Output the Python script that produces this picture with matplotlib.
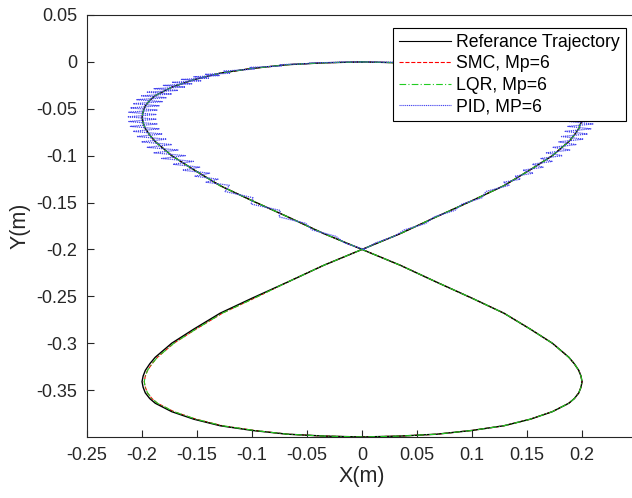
import matplotlib
matplotlib.use("Agg")
import matplotlib.pyplot as plt

# reference figure-eight (x, y in metres)
# one quarter per line pair, extra points near the turning tips
ref_x = [0.000, 0.035, 0.068, 0.100, 0.129, 0.153, 0.173, 0.188, 0.193, 0.197, 0.199,
         0.200, 0.199, 0.197, 0.193, 0.188, 0.173, 0.153, 0.129, 0.100, 0.068, 0.035,
         0.000, -0.035, -0.068, -0.100, -0.129, -0.153, -0.173, -0.188, -0.193, -0.197, -0.199,
         -0.200, -0.199, -0.197, -0.193, -0.188, -0.173, -0.153, -0.129, -0.100, -0.068, -0.035,
         0.000, 0.035, 0.068, 0.100, 0.129, 0.153, 0.173, 0.188, 0.193, 0.197, 0.199,
         0.200, 0.199, 0.197, 0.193, 0.188, 0.173, 0.153, 0.129, 0.100, 0.068, 0.035,
         0.000, -0.035, -0.068, -0.100, -0.129, -0.153, -0.173, -0.188, -0.193, -0.197, -0.199,
         -0.200, -0.199, -0.197, -0.193, -0.188, -0.173, -0.153, -0.129, -0.100, -0.068, -0.035, 0.000]
ref_y = [0.000, -0.001, -0.003, -0.007, -0.012, -0.019, -0.027, -0.036, -0.041, -0.047, -0.053,
         -0.059, -0.065, -0.071, -0.078, -0.085, -0.100, -0.115, -0.132, -0.148, -0.165, -0.183,
         -0.200, -0.217, -0.235, -0.252, -0.268, -0.285, -0.300, -0.315, -0.322, -0.329, -0.335,
         -0.341, -0.347, -0.353, -0.359, -0.364, -0.373, -0.381, -0.388, -0.393, -0.397, -0.399,
         -0.400, -0.399, -0.397, -0.393, -0.388, -0.381, -0.373, -0.364, -0.359, -0.353, -0.347,
         -0.341, -0.335, -0.329, -0.322, -0.315, -0.300, -0.285, -0.268, -0.252, -0.235, -0.217,
         -0.200, -0.183, -0.165, -0.148, -0.132, -0.115, -0.100, -0.085, -0.078, -0.071, -0.065,
         -0.059, -0.053, -0.047, -0.041, -0.036, -0.027, -0.019, -0.012, -0.007, -0.003, -0.001, 0.000]

# LQR / SMC sit on the reference, a touch inside on the lower-left lobe
lqr_x = [0.000, 0.035, 0.068, 0.100, 0.129, 0.153, 0.173, 0.188, 0.193, 0.197, 0.199,
         0.200, 0.199, 0.197, 0.193, 0.188, 0.173, 0.153, 0.129, 0.100, 0.068, 0.035,
         0.000, -0.035, -0.068, -0.098, -0.127, -0.151, -0.171, -0.186, -0.191, -0.195, -0.197,
         -0.198, -0.197, -0.195, -0.191, -0.186, -0.171, -0.151, -0.127, -0.098, -0.068, -0.035,
         0.000, 0.035, 0.068, 0.100, 0.129, 0.153, 0.173, 0.188, 0.193, 0.197, 0.199,
         0.200, 0.199, 0.197, 0.193, 0.188, 0.173, 0.153, 0.129, 0.100, 0.068, 0.035,
         0.000, -0.035, -0.068, -0.100, -0.129, -0.153, -0.173, -0.188, -0.193, -0.197, -0.199,
         -0.200, -0.199, -0.197, -0.193, -0.188, -0.173, -0.153, -0.129, -0.100, -0.068, -0.035, 0.000]
lqr_y = ref_y
smc_x = lqr_x
smc_y = ref_y

# PID only covers the upper lobe and swings sideways around it
pid_x = [
    # crossing -> lower part of left branch
    0.0020, -0.0160, -0.0238, -0.0456, -0.0511, -0.0754, -0.0743, -0.1009, -0.0990, -0.1246,
    # left tip, dense swings
    -0.1206, -0.1418, -0.1309, -0.1519, -0.1386, -0.1632, -0.1476, -0.1718, -0.1533, -0.1821,
    -0.1607, -0.1891, -0.1673, -0.1952, -0.1729, -0.2004, -0.1777, -0.2048, -0.1816, -0.2081,
    -0.1845, -0.2106, -0.1864, -0.2120, -0.1874, -0.2125, -0.1874, -0.2120, -0.1864, -0.2106,
    -0.1845, -0.2081, -0.1816, -0.2048, -0.1777, -0.2004, -0.1729, -0.1952, -0.1673, -0.1891,
    -0.1607, -0.1806, -0.1548, -0.1728, -0.1466, -0.1642, -0.1396, -0.1529, -0.1299, -0.1428,
    -0.1196,
    # across the top
    -0.1256, -0.0980, -0.1019, -0.0733, -0.0744, -0.0491, -0.0476, -0.0218, -0.0200, 0.0060,
    0.0080, 0.0338, 0.0356, 0.0611, 0.0624, 0.0873, 0.0879, 0.1120, 0.1116,
    # right tip
    0.1376, 0.1248, 0.1479, 0.1349, 0.1576, 0.1442, 0.1666, 0.1528, 0.1748, 0.1606,
    0.1832, 0.1666, 0.1898, 0.1727, 0.1954, 0.1779, 0.2002, 0.1823, 0.2041, 0.1856,
    0.2080, 0.1871, 0.2099, 0.1885, 0.2109, 0.1890, 0.2109, 0.1885, 0.2099, 0.1871,
    0.2080, 0.1846, 0.2051, 0.1813, 0.2012, 0.1789, 0.1944, 0.1737, 0.1888, 0.1676,
    0.1822, 0.1626, 0.1728, 0.1548, 0.1646, 0.1462, 0.1556, 0.1389, 0.1439, 0.1288,
    0.1336,
    # back down to the crossing
    0.1126, 0.1090, 0.0909, 0.0843, 0.0654, 0.0581, 0.0386, 0.0293, 0.0125, 0.0015]
pid_y = [
    -0.2000, -0.1930, -0.1860, -0.1791, -0.1722, -0.1653, -0.1584, -0.1516, -0.1449, -0.1382,
    -0.1316, -0.1283, -0.1251, -0.1219, -0.1187, -0.1155, -0.1123, -0.1092, -0.1061, -0.1030,
    -0.1000, -0.0970, -0.0940, -0.0911, -0.0882, -0.0853, -0.0824, -0.0796, -0.0769, -0.0741,
    -0.0714, -0.0688, -0.0662, -0.0636, -0.0611, -0.0586, -0.0561, -0.0537, -0.0514, -0.0491,
    -0.0468, -0.0446, -0.0424, -0.0403, -0.0382, -0.0362, -0.0342, -0.0323, -0.0304, -0.0286,
    -0.0268, -0.0251, -0.0234, -0.0218, -0.0202, -0.0187, -0.0173, -0.0159, -0.0146, -0.0133,
    -0.0121,
    -0.0098, -0.0077, -0.0059, -0.0044, -0.0030, -0.0019, -0.0011, -0.0005, -0.0001, 0.0000,
    -0.0001, -0.0005, -0.0011, -0.0019, -0.0030, -0.0044, -0.0059, -0.0077, -0.0098,
    -0.0121, -0.0133, -0.0146, -0.0159, -0.0173, -0.0187, -0.0202, -0.0218, -0.0234, -0.0251,
    -0.0268, -0.0286, -0.0304, -0.0323, -0.0342, -0.0362, -0.0382, -0.0403, -0.0424, -0.0446,
    -0.0468, -0.0491, -0.0514, -0.0537, -0.0561, -0.0586, -0.0611, -0.0636, -0.0662, -0.0688,
    -0.0714, -0.0741, -0.0769, -0.0796, -0.0824, -0.0853, -0.0882, -0.0911, -0.0940, -0.0970,
    -0.1000, -0.1030, -0.1061, -0.1092, -0.1123, -0.1155, -0.1187, -0.1219, -0.1251, -0.1283,
    -0.1316,
    -0.1382, -0.1449, -0.1516, -0.1584, -0.1653, -0.1722, -0.1791, -0.1860, -0.1930, -0.2000]

labels = ["Referance Trajectory", "SMC, Mp=6", "LQR, Mp=6", "PID, MP=6"]
x_ticks = [-0.25, -0.2, -0.15, -0.1, -0.05, 0, 0.05, 0.1, 0.15, 0.2]
x_tick_labels = ["-0.25", "-0.2", "-0.15", "-0.1", "-0.05", "0", "0.05", "0.1", "0.15", "0.2"]
y_ticks = [0.05, 0, -0.05, -0.1, -0.15, -0.2, -0.25, -0.3, -0.35]
y_tick_labels = ["0.05", "0", "-0.05", "-0.1", "-0.15", "-0.2", "-0.25", "-0.3", "-0.35"]


def plot_paths(filename="out.png"):
    plt.rcParams["font.family"] = ["Liberation Sans", "DejaVu Sans"]
    plt.rcParams["axes.unicode_minus"] = False

    fig = plt.figure(figsize=(6.32, 4.98), dpi=100)
    ax = fig.add_axes([0.1377, 0.1225, 0.8703, 0.8474])

    ax.plot(ref_x, ref_y, color="black", lw=1.0, label=labels[0], zorder=2)
    # SMC hides under the black line in the original
    ax.plot(smc_x, smc_y, color="red", ls="--", lw=0.8, label=labels[1], zorder=1)
    ax.plot(lqr_x, lqr_y, color="#22cc22", ls=(0, (6, 2, 1, 2)), lw=0.8,
            label=labels[2], zorder=3)
    ax.plot(pid_x, pid_y, color="#4646ee", ls=(0, (1, 0.7)), lw=0.9,
            label=labels[3], zorder=4)

    ax.set_xlim(-0.25, 0.25)
    ax.set_ylim(-0.4, 0.05)
    ax.set_xticks(x_ticks)
    ax.set_xticklabels(x_tick_labels)
    ax.set_yticks(y_ticks)
    ax.set_yticklabels(y_tick_labels)
    ax.tick_params(direction="in", length=5, width=0.8, labelsize=13,
                   colors="#262626", pad=7)
    ax.spines["right"].set_visible(False)
    for s in ["left", "bottom", "top"]:
        ax.spines[s].set_color("#262626")
        ax.spines[s].set_linewidth(0.8)

    ax.set_xlabel("X(m)", fontsize=15.5, color="#262626", labelpad=2)
    ax.set_ylabel("Y(m)", fontsize=15.5, color="#262626", labelpad=4)

    leg = ax.legend(loc="upper right", bbox_to_anchor=(0.98, 0.969),
                    borderaxespad=0, fontsize=12.7, fancybox=False,
                    edgecolor="black", framealpha=1, handlelength=2.95,
                    handletextpad=0.28, labelspacing=0.25, borderpad=0.34)
    leg.get_frame().set_linewidth(0.8)
    for line in leg.get_lines():
        line.set_linewidth(0.8)

    fig.savefig(filename, dpi=100)


if __name__ == "__main__":
    plot_paths()
